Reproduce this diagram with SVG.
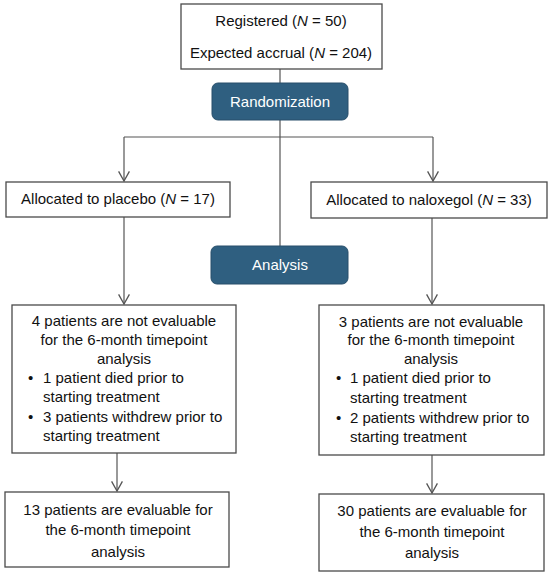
<svg xmlns="http://www.w3.org/2000/svg" width="550" height="576" viewBox="0 0 550 576">
<style>
.box{fill:#fff;stroke:#4a4a4a;stroke-width:1.3}
.dark{fill:#2f5f80;stroke:#284f6b;stroke-width:1}
.t{font-family:"Liberation Sans",Arial,sans-serif;font-size:15px;fill:#111}
.c{text-anchor:middle}
.w{fill:#fff}
.ln{stroke:#555;stroke-width:1.2;fill:none}
</style>
<defs>
<marker id="arr" markerWidth="12" markerHeight="12" refX="9" refY="5" orient="auto" markerUnits="userSpaceOnUse" viewBox="0 0 10 10">
<path d="M1,0.5 L9,5 L1,9.5" fill="none" stroke="#555" stroke-width="1.1"/>
</marker>
</defs>
<rect width="550" height="576" fill="#fff"/>
<g id="connectors">
<line class="ln" x1="280" y1="69" x2="280" y2="83"/>
<line class="ln" x1="280" y1="120" x2="280" y2="246"/>
<line class="ln" x1="124" y1="137" x2="433" y2="137"/>
<line class="ln" x1="124" y1="137" x2="124" y2="181" marker-end="url(#arr)"/>
<line class="ln" x1="433" y1="137" x2="433" y2="181" marker-end="url(#arr)"/>
<line class="ln" x1="124" y1="217" x2="124" y2="304" marker-end="url(#arr)"/>
<line class="ln" x1="432" y1="218" x2="432" y2="304" marker-end="url(#arr)"/>
<line class="ln" x1="117" y1="453" x2="117" y2="491" marker-end="url(#arr)"/>
<line class="ln" x1="432" y1="455" x2="432" y2="493" marker-end="url(#arr)"/>
</g>
<g id="registered">
<rect class="box" x="181" y="4" width="201" height="65"/>
<text class="t c" x="281" y="26">Registered (<tspan font-style="italic">N</tspan> = 50)</text>
<text class="t c" x="281" y="58">Expected accrual (<tspan font-style="italic">N</tspan> = 204)</text>
</g>
<g id="randomization">
<rect class="dark" x="212" y="83" width="136" height="37" rx="6"/>
<text class="t c w" x="280" y="107">Randomization</text>
</g>
<g id="placebo">
<rect class="box" x="6" y="182" width="224" height="35"/>
<text class="t c" x="118" y="204">Allocated to placebo (<tspan font-style="italic">N</tspan> = 17)</text>
</g>
<g id="naloxegol">
<rect class="box" x="311" y="182" width="236" height="36"/>
<text class="t c" x="429" y="205">Allocated to naloxegol (<tspan font-style="italic">N</tspan> = 33)</text>
</g>
<g id="analysis">
<rect class="dark" x="211" y="246" width="137" height="38" rx="6"/>
<text class="t c w" x="280" y="270">Analysis</text>
</g>
<g id="placebo-not-evaluable">
<rect class="box" x="12" y="305" width="224" height="148"/>
<text class="t c" x="124" y="326">4 patients are not evaluable</text>
<text class="t c" x="124" y="345">for the 6-month timepoint</text>
<text class="t c" x="124" y="364">analysis</text>
<text class="t" x="28" y="383">•</text>
<text class="t" x="43" y="383">1 patient died prior to</text>
<text class="t" x="43" y="402">starting treatment</text>
<text class="t" x="28" y="422">•</text>
<text class="t" x="43" y="422">3 patients withdrew prior to</text>
<text class="t" x="43" y="441">starting treatment</text>
</g>
<g id="naloxegol-not-evaluable">
<rect class="box" x="319" y="305" width="225" height="150"/>
<text class="t c" x="431" y="327">3 patients are not evaluable</text>
<text class="t c" x="431" y="345">for the 6-month timepoint</text>
<text class="t c" x="431" y="364">analysis</text>
<text class="t" x="336" y="383">•</text>
<text class="t" x="350" y="383">1 patient died prior to</text>
<text class="t" x="350" y="403">starting treatment</text>
<text class="t" x="336" y="423">•</text>
<text class="t" x="350" y="423">2 patients withdrew prior to</text>
<text class="t" x="350" y="442">starting treatment</text>
</g>
<g id="placebo-evaluable">
<rect class="box" x="5" y="492" width="224" height="75"/>
<text class="t c" x="118" y="515">13 patients are evaluable for</text>
<text class="t c" x="118" y="535">the 6-month timepoint</text>
<text class="t c" x="118" y="557">analysis</text>
</g>
<g id="naloxegol-evaluable">
<rect class="box" x="319" y="494" width="225" height="77"/>
<text class="t c" x="432" y="516">30 patients are evaluable for</text>
<text class="t c" x="432" y="537">the 6-month timepoint</text>
<text class="t c" x="432" y="558">analysis</text>
</g>
</svg>
